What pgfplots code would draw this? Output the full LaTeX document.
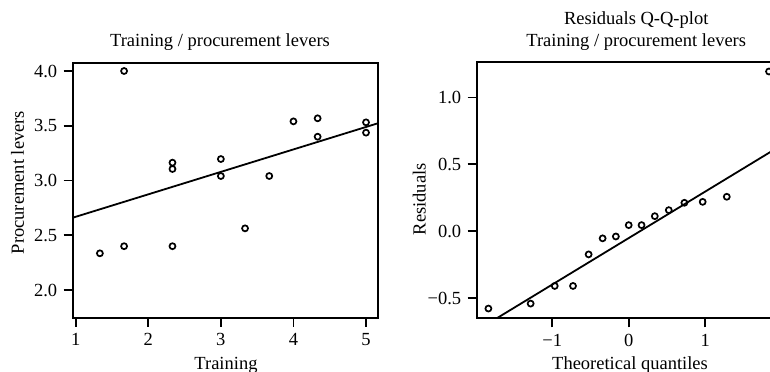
\documentclass[border=0pt]{standalone}
\usepackage{fontspec}
\setmainfont{Liberation Serif}
\usepackage{pgfplots}
\pgfplotsset{compat=1.18}
\begin{document}
\fontsize{9.25}{10.85}\selectfont
\begin{tikzpicture}
\path[use as bounding box] (0,0) rectangle (385pt,185.5pt);
\clip (0,0) rectangle (385pt,185.5pt);
\pgfplotsset{
  every axis title shift=0pt,
  every axis/.append style={
    scale only axis,
    axis line style={line width=0.9pt},
    tick style={line width=0.9pt, black},
    major tick length=4.5pt,
    tick align=outside,
    tick pos=left,
    font=\fontsize{9.25}{10.85}\selectfont,
    every tick label/.append style={font=\fontsize{9.25}{10.85}\selectfont},
  },
}
\begin{axis}[
  at={(36.35pt,26.65pt)}, anchor=south west,
  width=152.5pt, height=127.5pt,
  xmin=0.9587, xmax=5.161, ymin=1.747, ymax=4.0758,
  xtick={1,2,3,4,5}, xticklabels={1,2,3,4,5},
  ytick={2,2.5,3,3.5,4}, yticklabels={2.0,2.5,3.0,3.5,4.0},
  title={Training / procurement levers},
  title style={at={(axis description cs:0.483,1.0627)}, anchor=base, inner sep=0pt},
  xlabel={Training},
  xlabel style={at={(axis description cs:0.5026,-0.2012)}, anchor=base, inner sep=0pt},
  ylabel={Procurement levers},
  ylabel style={at={(axis description cs:-0.1597,0.5302)}, anchor=base, rotate=0, inner sep=0pt},
]
\addplot[only marks, mark=o, mark size=1.5pt, mark options={line width=0.85pt, black}] coordinates {
(1.3333,2.335) (1.6667,4.0) (1.6667,2.40) (2.3333,2.40) (2.3333,3.163) (2.3333,3.105)
(3,3.196) (3,3.041) (3.3333,2.563) (3.6667,3.041) (4,3.54) (4.3333,3.568)
(4.3333,3.40) (5,3.531) (5,3.437)};
\addplot[black, line width=0.9pt] coordinates {(0.9587,2.66) (5.161,3.522)};
\end{axis}
\begin{axis}[
  at={(238.35pt,26.35pt)}, anchor=south west,
  width=152pt, height=128.15pt,
  xmin=-1.987, xmax=1.987, ymin=-0.652, ymax=1.265,
  xtick={-1,0,1}, xticklabels={−1,0,1},
  ytick={-0.5,0,0.5,1}, yticklabels={−0.5,0.0,0.5,1.0},
  title={Training / procurement levers},
  title style={at={(axis description cs:0.5247,1.0597)}, anchor=base, inner sep=0pt},
  xlabel={Theoretical quantiles},
  xlabel style={at={(axis description cs:0.5043,-0.1978)}, anchor=base, inner sep=0pt},
  ylabel={Residuals},
  ylabel style={at={(axis description cs:-0.1684,0.4647)}, anchor=base, rotate=0, inner sep=0pt},
  clip=false,
]
\node[anchor=base, inner sep=0pt] at (axis description cs:0.5247,1.1444) {Residuals Q-Q-plot};
\begin{scope}
\clip (axis description cs:0,0) rectangle (axis description cs:1,1);
\addplot[black, line width=0.9pt] coordinates {(-1.987,-0.743) (1.987,0.639)};
\end{scope}
\addplot[only marks, mark=o, mark size=1.5pt, mark options={line width=0.85pt, black}] coordinates {
(-1.834,-0.579) (-1.282,-0.542) (-0.967,-0.410) (-0.728,-0.410) (-0.524,-0.174)
(-0.341,-0.054) (-0.168,-0.040) (0,0.045) (0.168,0.045) (0.341,0.112)
(0.524,0.157) (0.728,0.212) (0.967,0.219) (1.282,0.257) (1.834,1.194)};
\end{axis}
\end{tikzpicture}
\end{document}
